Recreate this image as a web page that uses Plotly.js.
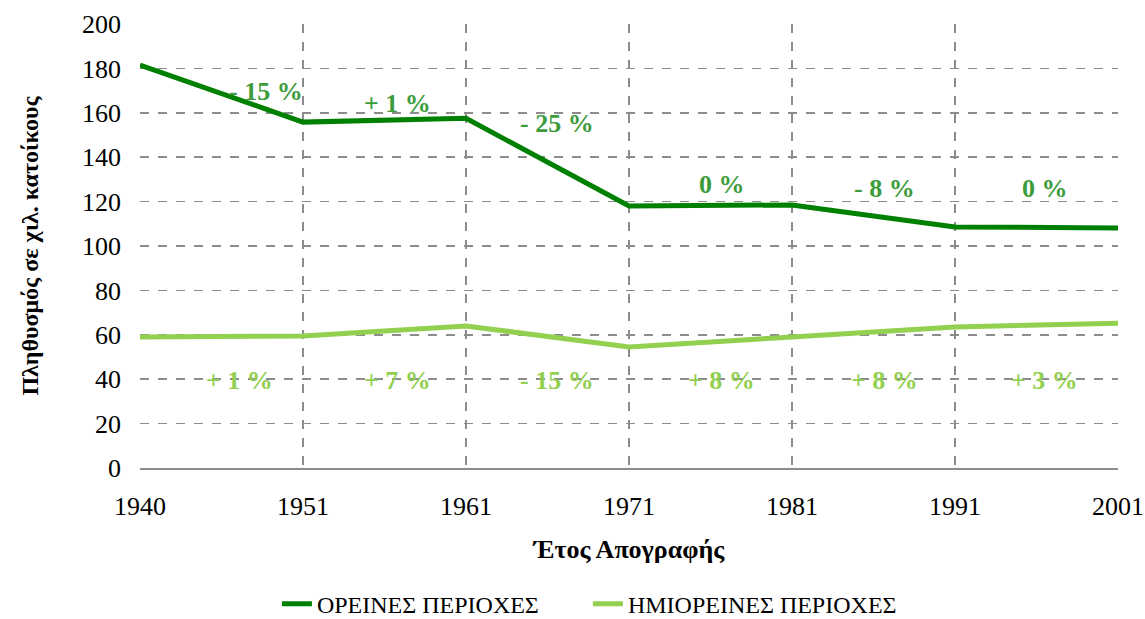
<!DOCTYPE html>
<html><head><meta charset="utf-8">
<script src="https://cdn.plot.ly/plotly-3.0.1.min.js"></script>
<style>body{margin:0;background:#fff}#c{width:1145px;height:619px}</style>
</head><body><div id="c"></div>
<script>
const years = ['1940','1951','1961','1971','1981','1991','2001'];
const mountain = [181.5, 155.8, 157.5, 118, 118.5, 108.6, 108.1];
const semiMountain = [59, 59.5, 64, 54.5, 59, 63.5, 65.2];
const mountainLabels = ['- 15 %','+ 1 %','- 25 %','0 %','- 8 %','0 %'];
const mountainLabelX = [0.77, 1.58, 2.56, 3.57, 4.57, 5.55];
const mountainLabelY = [169.4, 164.4, 155.4, 127.5, 126, 126];
const semiLabels = ['+ 1 %','+ 7 %','- 15 %','+ 8 %','+ 8 %','+ 3 %'];
const semiLabelX = [0.61, 1.58, 2.56, 3.57, 4.57, 5.55];
const semiLabelY = [39.2, 39.2, 39.2, 39.2, 39.2, 39.2];

const font = 'Liberation Serif';
const annotations = [];
mountainLabels.forEach((t,i)=>annotations.push({x:mountainLabelX[i],y:mountainLabelY[i],xref:'x',yref:'y',text:'<b>'+t+'</b>',showarrow:false,font:{family:font,size:26,color:'#3c9c3c'}}));
semiLabels.forEach((t,i)=>annotations.push({x:semiLabelX[i],y:semiLabelY[i],xref:'x',yref:'y',text:'<b>'+t+'</b>',showarrow:false,font:{family:font,size:26,color:'#92d050'}}));

const traces = [
 {x:[0,1,2,3,4,5,6], y:mountain, type:'scatter', mode:'lines', name:'ΟΡΕΙΝΕΣ ΠΕΡΙΟΧΕΣ', line:{color:'#008000',width:5}},
 {x:[0,1,2,3,4,5,6], y:semiMountain, type:'scatter', mode:'lines', name:'ΗΜΙΟΡΕΙΝΕΣ ΠΕΡΙΟΧΕΣ', line:{color:'#92d050',width:5}}
];
const layout = {
 width:1145, height:619,
 margin:{l:140,r:27,t:24,b:151,autoexpand:false},
 paper_bgcolor:'#fff', plot_bgcolor:'#fff',
 font:{family:font,size:26,color:'#000'},
 showlegend:true,
 legend:{orientation:'h',x:0.458,xanchor:'center',yref:'container',y:0.024,yanchor:'middle',font:{family:font,size:24,color:'#000'},entrywidth:266,entrywidthmode:'pixels'},
 xaxis:{range:[0,6],tickvals:[0,1,2,3,4,5,6],ticktext:years,showgrid:true,gridcolor:'#8c8c8c',griddash:'dash',gridwidth:1.5,
   showline:true,linecolor:'#8c8c8c',linewidth:1.5,ticks:'',zeroline:false,ticklabelstandoff:14,
   tickfont:{family:font,size:26},title:{text:'<b>Έτος Απογραφής</b>',font:{family:font,size:26},standoff:20}},
 yaxis:{range:[0,200],dtick:20,showgrid:true,gridcolor:'#8c8c8c',griddash:'dash',gridwidth:1.5,
   showline:false,ticks:'',zeroline:false,ticklabelstandoff:18,
   tickfont:{family:font,size:26},title:{text:'<b>Πληθυσμός σε χιλ. κατοίκους</b>',font:{family:font,size:24},standoff:36}},
 annotations:annotations
};
Plotly.newPlot('c',traces,layout,{displayModeBar:false,staticPlot:true});
</script></body></html>
